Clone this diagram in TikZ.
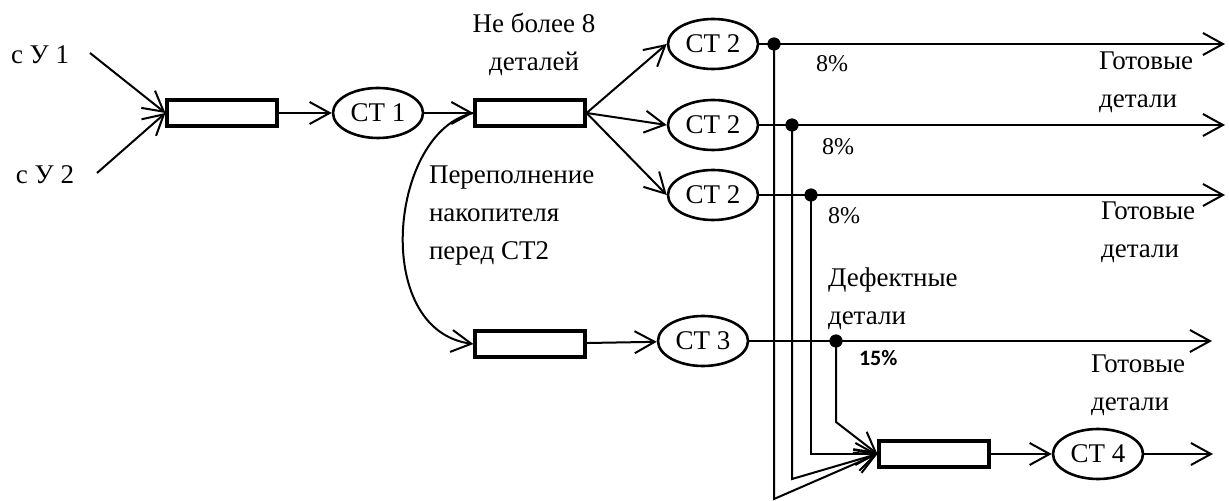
\documentclass[tikz,border=0pt]{standalone}
\usepackage{fontspec}
\setmainfont{Liberation Serif}
\newfontfamily\calibfont{Carlito}
\usetikzlibrary{arrows.meta,shapes.geometric}

\begin{document}
\begin{tikzpicture}[x=0.5pt,y=-0.5pt,line width=1pt,
  >={Straight Barb[length=10pt,width=11pt]},
  font=\fontsize{13.5}{19}\selectfont,
  bufbox/.style={draw,line width=1.6pt,minimum width=55pt,minimum height=13pt,inner sep=0pt},
  stat/.style={draw,ellipse,line width=1.3pt,minimum width=45pt,minimum height=25pt,inner sep=0pt},
  note/.style={align=left,anchor=base west,inner sep=0pt},
  pct/.style={anchor=base west,inner sep=0pt,font=\fontsize{12}{14}\selectfont}]
  \useasboundingbox (0,0) rectangle (1229,501);
  % входы
  \node[note] (u1) at (10,64) {с У 1};
  \node[note] (u2) at (15,184) {с У 2};
  \coordinate (in1) at (90,53);
  \coordinate (in2) at (97,173);
  % накопители и станки
  \node[bufbox] (b1) at (222,113) {};
  \node[stat] (st1) at (378,113) {СТ 1};
  \node[bufbox] (b2) at (530,113) {};
  \node[stat] (st2a) at (713,44) {СТ 2};
  \node[stat] (st2b) at (713,125) {СТ 2};
  \node[stat] (st2c) at (713,195) {СТ 2};
  \node[bufbox] (b3) at (530,344) {};
  \node[stat] (st3) at (703,341) {СТ 3};
  \node[bufbox] (b4) at (934,454) {};
  \node[stat] (st4) at (1098,454) {СТ 4};
  % узлы отбраковки
  \coordinate (j1) at (774,44);
  \coordinate (j2) at (792,125);
  \coordinate (j3) at (811,195);
  \coordinate (j4) at (836,341);
  \coordinate (k1) at (774,499);
  \coordinate (k2) at (792,479);
  \coordinate (k3) at (811,454);
  \coordinate (k4) at (836,422);
  \coordinate (o1) at (1225,44);
  \coordinate (o2) at (1225,125);
  \coordinate (o3) at (1225,195);
  \coordinate (o4) at (1212,341);
  \coordinate (o5) at (1213,454);

  \draw[->] (in1) -- (b1.west);
  \draw[->] (in2) -- (b1.west);
  \draw[->] (b1) -- (st1);
  \draw[->] (st1) -- (b2);
  \draw[->] (b2.east) -- (st2a.west);
  \draw[->] (b2.east) -- (st2b.west);
  \draw[->] (b2.east) -- (st2c.west);
  \draw[->] (b2.west) .. controls (390,130) and (370,330) .. (b3.west);
  \draw[->] (b3) -- (st3);
  \draw[->] (st2a) -- (o1);
  \draw[->] (st2b) -- (o2);
  \draw[->] (st2c) -- (o3);
  \draw[->] (st3) -- (o4);
  \draw[->] (j1) -- (k1) -- (b4.west);
  \draw[->] (j2) -- (k2) -- (b4.west);
  \draw[->] (j3) -- (k3) -- (b4.west);
  \draw[->] (j4) -- (k4) -- (b4.west);
  \draw[->] (b4) -- (st4);
  \draw[->] (st4) -- (o5);
  \foreach \j in {j1,j2,j3,j4}
    \fill (\j) circle (3.3pt);

  % подписи (base = последняя строка)
  \node[align=center,anchor=base,inner sep=0pt] (lim) at (534,71) {Не более 8\\деталей};
  \node[note] (ovf) at (428,260) {Переполнение\\накопителя\\перед СТ2};
  \node[note] (ready1) at (1098,108) {Готовые\\детали};
  \node[note] (ready2) at (1100,258) {Готовые\\детали};
  \node[note] (ready3) at (1090,410) {Готовые\\детали};
  \node[note] (defect) at (827,325) {Дефектные\\детали};
  \node[pct] (p1) at (815,72) {8\%};
  \node[pct] (p2) at (821,155) {8\%};
  \node[pct] (p3) at (827,224) {8\%};
  \node[pct,font=\calibfont\bfseries\fontsize{11}{13}\selectfont] (p4) at (858,366) {15\%};
\end{tikzpicture}
\end{document}
